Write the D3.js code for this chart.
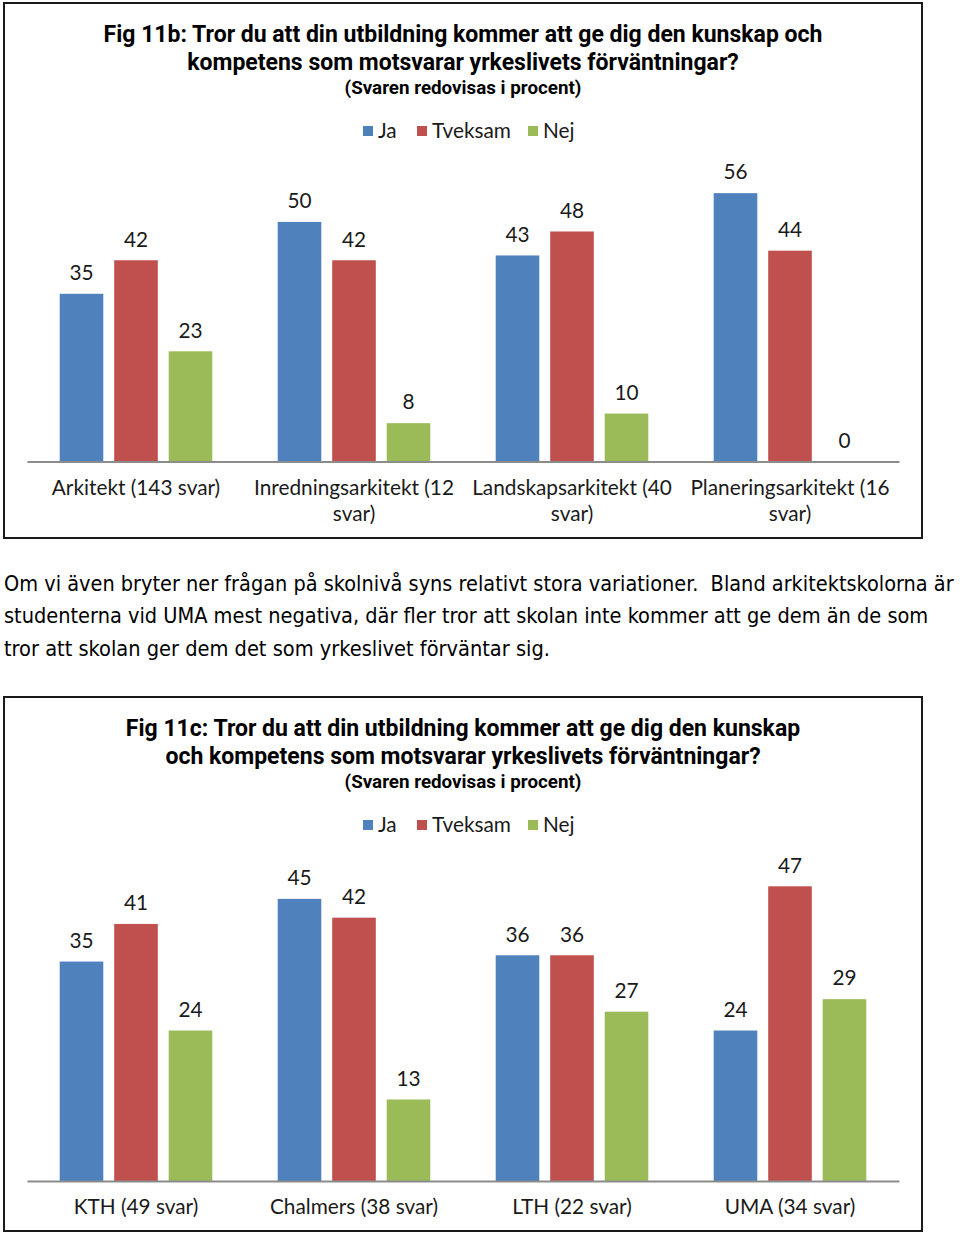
<!DOCTYPE html>
<html>
<head>
<meta charset="utf-8">
<script src="https://cdn.jsdelivr.net/npm/d3@7/dist/d3.min.js"></script>
<style>
  body { margin: 0; background: #fff; }
  svg { display: block; }
</style>
</head>
<body>
<script>
// ---------- DATA ----------
const seriesNames = ["Ja", "Tveksam", "Nej"];
const seriesColors = ["#4F81BD", "#C0504D", "#9BBB59"];

const categories1 = ["Arkitekt (143 svar)", "Inredningsarkitekt (12 svar)", "Landskapsarkitekt (40 svar)", "Planeringsarkitekt (16 svar)"];
const ja1 = [35, 50, 43, 56];
const tveksam1 = [42, 42, 48, 44];
const nej1 = [23, 8, 10, 0];
const yMax1 = 60;

const categories2 = ["KTH (49 svar)", "Chalmers (38 svar)", "LTH (22 svar)", "UMA (34 svar)"];
const ja2 = [35, 45, 36, 24];
const tveksam2 = [41, 42, 36, 47];
const nej2 = [24, 13, 27, 29];
const yMax2 = 50;

const title1 = ["Fig 11b: Tror du att din utbildning kommer att ge dig den kunskap och", "kompetens som motsvarar yrkeslivets förväntningar?"];
const title2 = ["Fig 11c: Tror du att din utbildning kommer att ge dig den kunskap", "och kompetens som motsvarar yrkeslivets förväntningar?"];
const subtitle = "(Svaren redovisas i procent)";

const paragraph = [
  "Om vi även bryter ner frågan på skolnivå syns relativt stora variationer.  Bland arkitektskolorna är",
  "studenterna vid UMA mest negativa, där fler tror att skolan inte kommer att ge dem än de som",
  "tror att skolan ger dem det som yrkeslivet förväntar sig."
];

// ---------- DRAW ----------
const W = 960, H = 1234;
const svg = d3.select("body").append("svg").attr("width", W).attr("height", H);
svg.append("rect").attr("width", W).attr("height", H).attr("fill", "#fff");

const chartFont = "Lato, 'Open Sans', sans-serif";
const labelSize = 20.8;

function drawChart(o) {
  const g = svg.append("g");
  // border box
  g.append("rect")
    .attr("x", 4).attr("y", o.boxTop)
    .attr("width", 918).attr("height", o.boxBottom - o.boxTop)
    .attr("fill", "#fff").attr("stroke", "#1a1a1a").attr("stroke-width", 2);

  const cx = 463;
  // title
  o.title.forEach((t, i) => {
    g.append("text").attr("x", cx).attr("y", o.titleY + i * 28)
      .attr("dy", "0.35em").attr("text-anchor", "middle")
      .attr("font-family", "Roboto, sans-serif").attr("font-weight", "bold")
      .attr("font-size", 23).attr("fill", "#000").text(t);
  });
  g.append("text").attr("x", cx).attr("y", o.titleY + 53)
    .attr("dy", "0.35em").attr("text-anchor", "middle")
    .attr("font-family", "Roboto, sans-serif").attr("font-weight", "bold")
    .attr("font-size", 18.8).attr("fill", "#000").text(subtitle);

  // legend
  const legendX = [363, 417, 528];
  seriesNames.forEach((s, i) => {
    g.append("rect").attr("x", legendX[i]).attr("y", o.legendY - 5)
      .attr("width", 10).attr("height", 10).attr("fill", seriesColors[i]);
    g.append("text").attr("x", legendX[i] + 15).attr("y", o.legendY)
      .attr("dy", "0.35em").attr("font-family", chartFont)
      .attr("font-size", labelSize).attr("fill", "#1a1a1a").text(s);
  });

  // scales
  const x0 = d3.scaleBand().domain(o.categories).range([27, 899]).padding(0);
  const bw = x0.bandwidth();
  const x1 = d3.scaleBand().domain(seriesNames)
    .range([bw * 0.15, bw * 0.85]).paddingInner(0.2).paddingOuter(0);
  const y = d3.scaleLinear().domain([0, o.yMax]).range([o.baseY, o.plotTop]);

  const values = [o.ja, o.tveksam, o.nej];
  const data = [];
  o.categories.forEach((c, ci) => {
    seriesNames.forEach((s, si) => {
      data.push({ cat: c, series: s, value: values[si][ci], color: seriesColors[si] });
    });
  });

  g.selectAll("rect.bar").data(data).enter().append("rect")
    .attr("class", "bar")
    .attr("x", d => x0(d.cat) + x1(d.series))
    .attr("width", x1.bandwidth())
    .attr("y", d => y(d.value))
    .attr("height", d => y(0) - y(d.value))
    .attr("fill", d => d.color);

  g.selectAll("text.val").data(data).enter().append("text")
    .attr("class", "val")
    .attr("x", d => x0(d.cat) + x1(d.series) + x1.bandwidth() / 2)
    .attr("y", d => y(d.value) - 21)
    .attr("dy", "0.35em").attr("text-anchor", "middle")
    .attr("font-family", chartFont).attr("font-size", labelSize)
    .attr("fill", "#1a1a1a").text(d => d.value);

  // baseline axis
  const axis = d3.axisBottom(x0).tickSize(0).tickFormat("");
  const ag = g.append("g").attr("transform", `translate(0,${o.baseY})`).call(axis);
  ag.select(".domain").attr("stroke", "#8c8c8c").attr("stroke-width", 2);

  // category labels (wrapped)
  o.categories.forEach(c => {
    const t = g.append("text").attr("text-anchor", "middle")
      .attr("font-family", chartFont).attr("font-size", labelSize).attr("fill", "#1a1a1a");
    const words = c.split(" ");
    let lines = [], cur = [];
    const probe = g.append("text").attr("font-family", chartFont).attr("font-size", labelSize);
    words.forEach(w => {
      const test = cur.concat([w]).join(" ");
      probe.text(test);
      if (cur.length && probe.node().getComputedTextLength() > 218) {
        lines.push(cur.join(" "));
        cur = [w];
      } else cur.push(w);
    });
    lines.push(cur.join(" "));
    probe.remove();
    lines.forEach((l, i) => {
      t.append("tspan").attr("x", x0(c) + bw / 2)
        .attr("y", o.labelY + i * 26).attr("dy", "0.35em").text(l);
    });
  });
}

drawChart({
  boxTop: 3, boxBottom: 538, titleY: 34, legendY: 131, title: title1,
  categories: categories1, ja: ja1, tveksam: tveksam1, nej: nej1,
  yMax: yMax1, baseY: 461.5, plotTop: 174, labelY: 488
});

drawChart({
  boxTop: 697, boxBottom: 1231, titleY: 728, legendY: 825, title: title2,
  categories: categories2, ja: ja2, tveksam: tveksam2, nej: nej2,
  yMax: yMax2, baseY: 1181, plotTop: 867.5, labelY: 1207
});

// paragraph (horizontally scaled to match the narrow reference font)
const paraWidths = [950, 925, 546];
paragraph.forEach((line, i) => {
  const pg = svg.append("g");
  const t = pg.append("text").attr("x", 0).attr("y", 0)
    .attr("dy", "0.35em")
    .style("white-space", "pre")
    .attr("font-family", "'Liberation Sans Narrow', 'DejaVu Sans Condensed', sans-serif")
    .attr("font-size", 22).attr("fill", "#000")
    .text(line);
  const natural = t.node().getComputedTextLength();
  const sx = paraWidths[i] / natural;
  pg.attr("transform", `translate(4,${583 + i * 32.5}) scale(${sx},1)`);
});
</script>
</body>
</html>
